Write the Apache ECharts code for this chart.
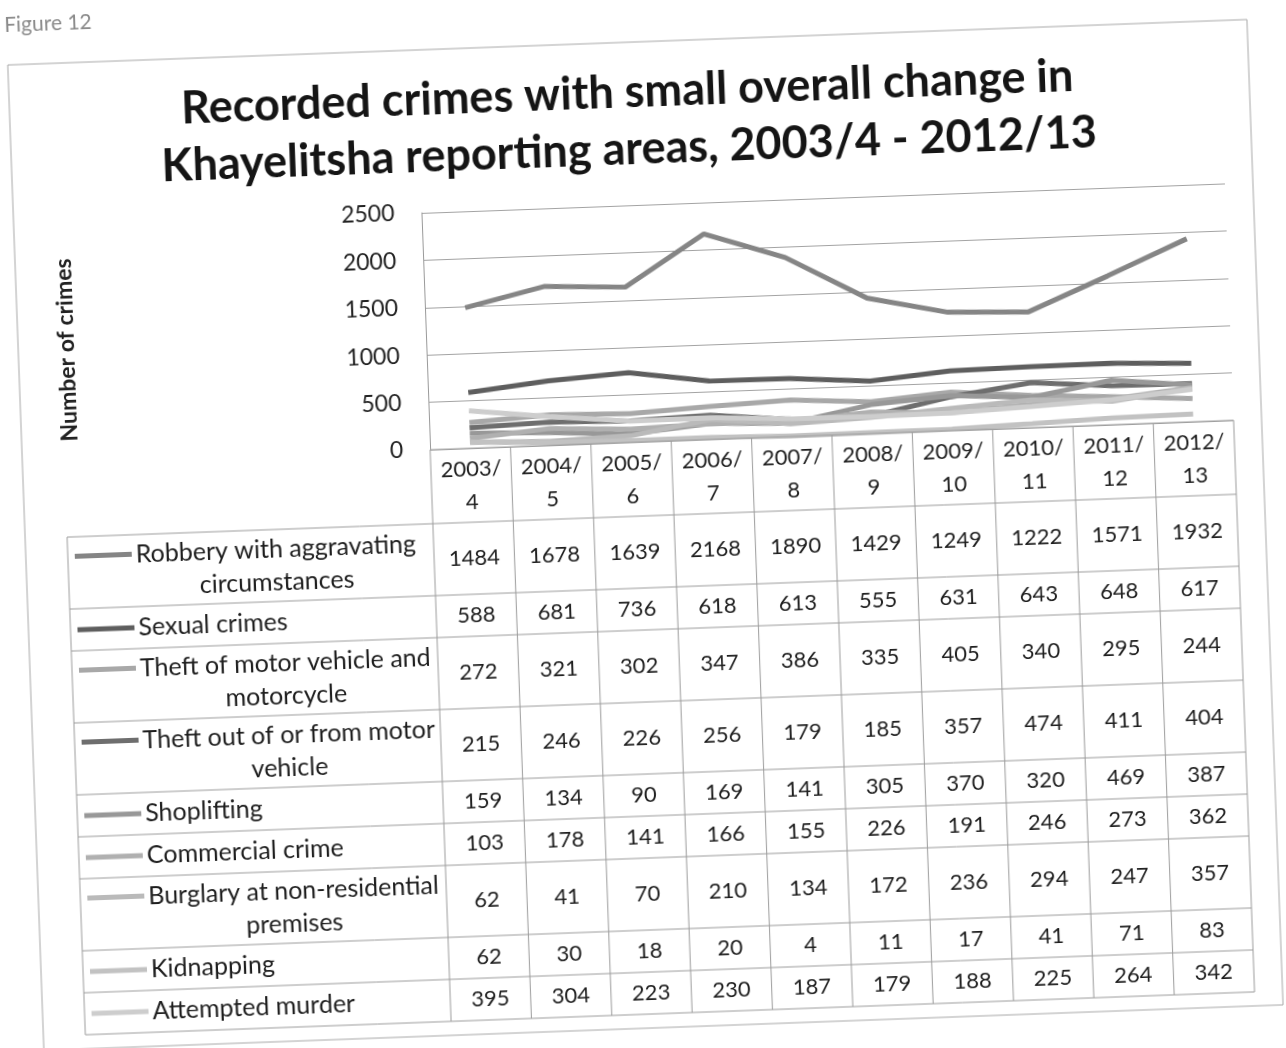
<!DOCTYPE html>
<html><head><meta charset="utf-8">
<script src="https://cdn.jsdelivr.net/npm/echarts@6/dist/echarts.min.js"></script>
<style>
html,body{margin:0;padding:0;background:#fff;overflow:hidden;width:1286px;height:1048px;position:relative;}
#c{position:absolute;left:-60px;top:-60px;width:1406px;height:1168px;transform:rotate(-2.1deg);transform-origin:703px 584px;}
</style></head><body><div id="c"></div>
<script>
// ---- data ----
const years = ['2003/4','2004/5','2005/6','2006/7','2007/8','2008/9','2009/10','2010/11','2011/12','2012/13'];
const seriesNames = ['Robbery with aggravating\ncircumstances','Sexual crimes','Theft of motor vehicle and\nmotorcycle','Theft out of or from motor\nvehicle','Shoplifting','Commercial crime','Burglary at non-residential\npremises','Kidnapping','Attempted murder'];
const robbery     = [1484,1678,1639,2168,1890,1429,1249,1222,1571,1932];
const sexual      = [588,681,736,618,613,555,631,643,648,617];
const theftMV     = [272,321,302,347,386,335,405,340,295,244];
const theftOut    = [215,246,226,256,179,185,357,474,411,404];
const shoplifting = [159,134,90,169,141,305,370,320,469,387];
const commercial  = [103,178,141,166,155,226,191,246,273,362];
const burglary    = [62,41,70,210,134,172,236,294,247,357];
const kidnapping  = [62,30,18,20,4,11,17,41,71,83];
const attempted   = [395,304,223,230,187,179,188,225,264,342];
const yTicks = [0,500,1000,1500,2000,2500];
const titleText = 'Recorded crimes with small overall change in\nKhayelitsha reporting areas, 2003/4 - 2012/13';
const yTitle = 'Number of crimes';
const figLabel = 'Figure 12';

const allValues = [robbery,sexual,theftMV,theftOut,shoplifting,commercial,burglary,kidnapping,attempted];
const colors = ['#858585','#5e5e5e','#a8a8a8','#6e6e6e','#989898','#b0b0b0','#bababa','#c2c2c2','#cdcdcd'];

// ---- layout ----
const OX = 60, OY = 60;
const FONT = 'Lato';
const gridL = 433, gridT = 205, gridW = 804, gridH = 237;
const chart = echarts.init(document.getElementById('c'), null, {renderer:'canvas'});

chart.setOption({
  animation:false,
  backgroundColor:'#fff',
  title:{text:titleText,left:'center',top:59+OY,
    textStyle:{fontFamily:FONT,fontWeight:'bold',fontSize:45,lineHeight:57,color:'#151515'}},
  grid:{left:gridL+OX,top:gridT+OY,width:gridW,height:gridH},
  xAxis:{type:'category',data:years,boundaryGap:true,axisLine:{show:false},axisTick:{show:false},axisLabel:{show:false},splitLine:{show:false}},
  yAxis:{type:'value',min:yTicks[0],max:yTicks[yTicks.length-1],interval:yTicks[1]-yTicks[0],
    axisLine:{show:true,lineStyle:{color:'#9a9a9a',width:1}},axisTick:{show:false},
    axisLabel:{fontFamily:FONT,fontSize:23,color:'#222',margin:27,formatter:v=>String(v)},
    splitLine:{show:true,lineStyle:{color:'#a3a3a3',width:1}}},
  series: allValues.map((v,k)=>({
    name:seriesNames[k].replace('\n',' '),type:'line',data:v,symbol:'none',smooth:false,
    lineStyle:{width:5,color:colors[k]},itemStyle:{color:colors[k]},z:2+k
  }))
});

// ---- data table ----
const mctx = document.createElement('canvas').getContext('2d');
const labelFont = 25, numFont = 22, lh = 33;
mctx.font = labelFont + 'px ' + FONT;
const xs = years.map((_,i)=>chart.convertToPixel({xAxisIndex:0},i));
const band = xs[1]-xs[0];
const y0 = chart.convertToPixel({yAxisIndex:0},0);
const colLeft = xs[0]-band/2, colRight = xs[xs.length-1]+band/2;
const tableLeft = 67+OX;
const headerH = 74;
const lineColor = '#9c9c9c';
const els = [];
function seg(x1,y1,x2,y2,c,w){els.push({type:'line',silent:true,z:10,shape:{x1,y1,x2,y2},style:{stroke:c||lineColor,lineWidth:w||1}});}
function txt(x,y,t,size,opts){els.push(Object.assign({type:'text',silent:true,z:11,x,y,style:Object.assign({text:t,fontFamily:FONT,fontSize:size,fill:'#1e1e1e',align:'center',verticalAlign:'middle',lineHeight:lh},opts||{})}));}

// header
seg(colLeft,y0,colRight,y0);
years.forEach((yr,i)=>{ txt(xs[i], y0+headerH/2, yr.replace('/','/\n'), numFont); });
let y = y0+headerH;
seg(tableLeft,y,colRight,y);
seriesNames.forEach((nm,k)=>{
  const lines = nm.split('\n');
  const h = 12+30*lines.length;
  const mid = y+h/2;
  allValues[k].forEach((v,i)=>txt(xs[i],mid,String(v),numFont));
  const keyX1 = 74+OX, keyX2 = 131+OX;
  const firstY = mid-(lines.length-1)*lh/2;
  seg(keyX1,firstY,keyX2,firstY,colors[k],5);
  const tStart = keyX2+4;
  const bw = Math.max(...lines.map(s=>mctx.measureText(s).width));
  txt(tStart+bw/2, mid, nm, labelFont);
  y += h;
  seg(tableLeft,y,colRight,y);
});
const tableBottom = y;
seg(tableLeft,y0+headerH,tableLeft,tableBottom);
for(let i=0;i<=years.length;i++){ const x=colLeft+i*band; seg(x,y0,x,tableBottom); }

// y axis title, figure label, outer border
els.push({type:'text',silent:true,x:74+OX,y:329+OY,rotation:Math.PI/2,style:{text:yTitle,fontFamily:FONT,fontWeight:'bold',fontSize:23,fill:'#222',align:'center',verticalAlign:'middle'}});
els.push({type:'text',silent:true,x:23+OX,y:2+OY,style:{text:figLabel,fontFamily:FONT,fontSize:21,fill:'#8a8a8a',align:'left',verticalAlign:'middle'}});
els.push({type:'rect',silent:true,z:0,shape:{x:25+OX,y:42+OY,width:1240,height:986},style:{fill:null,stroke:'#a8a8a8',lineWidth:1}});

chart.setOption({graphic:{elements:els}});
</script></body></html>
